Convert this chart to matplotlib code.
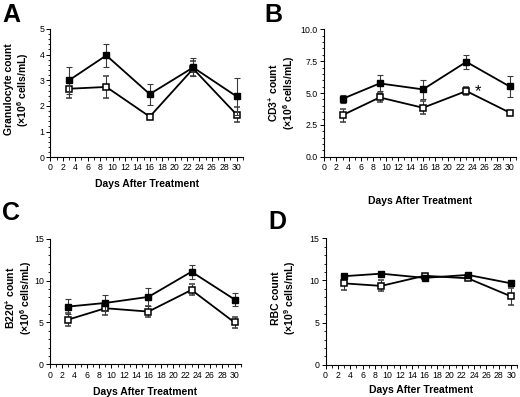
import matplotlib
matplotlib.use("Agg")
import matplotlib.pyplot as plt
from matplotlib.ticker import MultipleLocator, FormatStrFormatter

plt.rcParams["font.family"] = ["Liberation Sans", "DejaVu Sans"]
plt.rcParams["mathtext.fontset"] = "custom"
plt.rcParams["mathtext.rm"] = "Liberation Sans:bold"
plt.rcParams["mathtext.bf"] = "Liberation Sans:bold"

days = [3, 9, 16, 23, 30]

# panel A: granulocytes
gran_filled = [3.0, 3.97, 2.46, 3.5, 2.37]
gran_filled_err = [0.53, 0.45, 0.41, 0.35, 0.72]
gran_open = [2.67, 2.74, 1.58, 3.45, 1.66]
gran_open_err = [0.38, 0.42, 0.1, 0.3, 0.3]

# panel B: CD3+
cd3_filled = [4.55, 5.76, 5.29, 7.45, 5.52]
cd3_filled_err = [0.33, 0.63, 0.75, 0.55, 0.8]
cd3_open = [3.27, 4.66, 3.85, 5.16, 3.47]
cd3_open_err = [0.52, 0.35, 0.5, 0.33, 0.1]

# panel C: B220+
b220_filled = [6.9, 7.33, 8.05, 11.05, 7.74]
b220_filled_err = [0.85, 1.0, 1.1, 0.85, 0.82]
b220_open = [5.35, 6.7, 6.3, 8.88, 5.0]
b220_open_err = [0.8, 0.85, 0.65, 0.65, 0.6]

# panel D: RBC
rbc_filled = [10.5, 10.8, 10.3, 10.65, 9.65]
rbc_filled_err = [0.3, 0.2, 0.2, 0.2, 0.2]
rbc_open = [9.65, 9.35, 10.55, 10.25, 8.1]
rbc_open_err = [0.8, 0.65, 0.2, 0.2, 1.0]

panels = [
    dict(letter="A", pos=[0.097, 0.604, 0.370, 0.323], letter_xy=(0.004, 0.993),
         ylabel="Granulocyte count\n(×10$^{6}$ cells/mL)", ylab_x=-0.17, ylab_y=0.53,
         xlab_y=-0.21, ymax=5, major=1, minor=0.2, fmt="%d",
         filled=gran_filled, filled_err=gran_filled_err, opn=gran_open, opn_err=gran_open_err),
    dict(letter="B", pos=[0.623, 0.605, 0.369, 0.321], letter_xy=(0.508, 0.993),
         ylabel="CD3$^{+}$ count\n(×10$^{6}$ cells/mL)", ylab_x=-0.22, ylab_y=0.50,
         xlab_y=-0.345, ymax=10, major=2.5, minor=0.5, fmt="%.1f",
         filled=cd3_filled, filled_err=cd3_filled_err, opn=cd3_open, opn_err=cd3_open_err),
    dict(letter="C", pos=[0.096, 0.082, 0.367, 0.317], letter_xy=(0.004, 0.493),
         ylabel="B220$^{+}$ count\n(×10$^{6}$ cells/mL)", ylab_x=-0.163, ylab_y=0.53,
         xlab_y=-0.215, ymax=15, major=5, minor=1, fmt="%d",
         filled=b220_filled, filled_err=b220_filled_err, opn=b220_open, opn_err=b220_open_err),
    dict(letter="D", pos=[0.626, 0.081, 0.369, 0.319], letter_xy=(0.517, 0.47),
         ylabel="RBC count\n(×10$^{9}$ cells/mL)", ylab_x=-0.215, ylab_y=0.53,
         xlab_y=-0.2, ymax=15, major=5, minor=1, fmt="%d",
         filled=rbc_filled, filled_err=rbc_filled_err, opn=rbc_open, opn_err=rbc_open_err),
]

fig = plt.figure(figsize=(5.2, 3.97), dpi=100)

for p in panels:
    ax = fig.add_axes(p["pos"])
    err_kw = dict(ecolor="#3a3a3a", elinewidth=0.8, capsize=2.2, capthick=0.8)
    ax.errorbar(days, p["opn"], yerr=p["opn_err"], color="black", lw=1.3,
                marker="s", markersize=5, markerfacecolor="white",
                markeredgecolor="black", markeredgewidth=1.1, zorder=3, **err_kw)
    ax.errorbar(days, p["filled"], yerr=p["filled_err"], color="black", lw=1.3,
                marker="s", markersize=4.6, markerfacecolor="black",
                markeredgecolor="black", zorder=4, **err_kw)

    ax.set_xlim(0, 31)
    ax.set_ylim(0, p["ymax"])
    for side in ("top", "right"):
        ax.spines[side].set_visible(False)
    ax.spines["left"].set_linewidth(0.8)
    ax.spines["bottom"].set_linewidth(0.8)
    ax.spines["bottom"].set_bounds(0, 31)

    ax.xaxis.set_major_locator(MultipleLocator(2))
    ax.xaxis.set_minor_locator(MultipleLocator(1))
    ax.yaxis.set_major_locator(MultipleLocator(p["major"]))
    ax.yaxis.set_minor_locator(MultipleLocator(p["minor"]))
    ax.yaxis.set_major_formatter(FormatStrFormatter(p["fmt"]))
    ax.tick_params(which="major", length=3, width=0.7, pad=1.5, labelsize=6.3)
    ax.tick_params(which="minor", length=1.8, width=0.6)

    ax.text(p["ylab_x"], p["ylab_y"], p["ylabel"], transform=ax.transAxes,
            rotation=90, ha="center", va="center", fontsize=7.5,
            fontweight="bold", linespacing=1.1)
    ax.text(0.5, p["xlab_y"], "Days After Treatment", transform=ax.transAxes,
            ha="center", va="center", fontsize=7.5, fontweight="bold")
    fig.text(p["letter_xy"][0], p["letter_xy"][1], p["letter"], ha="left", va="top",
             fontsize=18, fontweight="bold")

    if p["letter"] == "B":
        ax.text(24.9, 5.1, "*", ha="center", va="center", fontsize=12)

fig.savefig("out.png", dpi=100)
